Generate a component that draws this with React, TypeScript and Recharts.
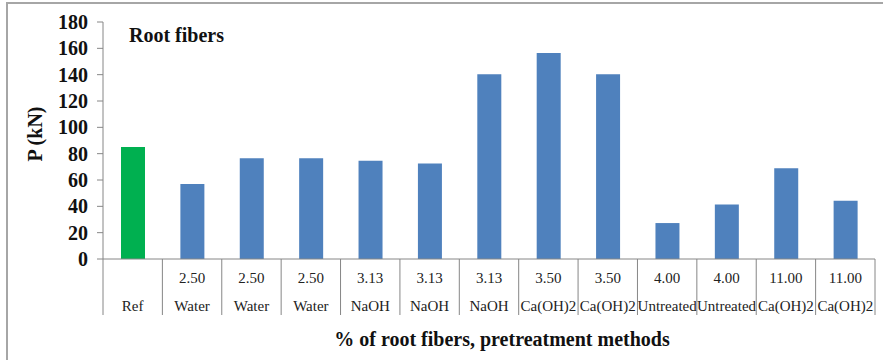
import React from 'react';
import { BarChart, Bar, XAxis, YAxis, Cell } from 'recharts';

const percents = ['', '2.50', '2.50', '2.50', '3.13', '3.13', '3.13', '3.50', '3.50', '4.00', '4.00', '11.00', '11.00'];
const methods = ['Ref', 'Water', 'Water', 'Water', 'NaOH', 'NaOH', 'NaOH', 'Ca(OH)2', 'Ca(OH)2', 'Untreated', 'Untreated', 'Ca(OH)2', 'Ca(OH)2'];
const loads = [85, 57, 76.5, 76.5, 74.6, 72.6, 140.4, 156.5, 140.4, 27.3, 41.4, 69, 44.2];
const yTicks = [0, 20, 40, 60, 80, 100, 120, 140, 160, 180];

const title = 'Root fibers';
const yTitle = 'P (kN)';
const xTitle = '% of root fibers, pretreatment methods';

const REF_COLOR = '#00B050';
const BAR_COLOR = '#4F81BD';
const AXIS_COLOR = '#868686';
const FONT = '"Liberation Serif", "Times New Roman", serif';

const data = methods.map((m, i) => ({ key: `${i}`, pct: percents[i], method: m, value: loads[i] }));

const CatTick = (props: any) => {
  const { x, y, index, width, visibleTicksCount } = props;
  const band = width / visibleTicksCount;
  const d = data[index];
  const isLast = index === visibleTicksCount - 1;
  return (
    <g>
      <line x1={x - band / 2} x2={x - band / 2} y1={y} y2={y + 56} stroke={AXIS_COLOR} strokeWidth={1} />
      {isLast && <line x1={x + band / 2} x2={x + band / 2} y1={y} y2={y + 56} stroke={AXIS_COLOR} strokeWidth={1} />}
      {d && d.pct && (
        <text x={x} y={y + 24} textAnchor="middle" fontSize={15} fontFamily={FONT} fill="#222">
          {d.pct}
        </text>
      )}
      {d && (
        <text x={x} y={y + 52} textAnchor="middle" fontSize={15} fontFamily={FONT} fill="#222">
          {d.method}
        </text>
      )}
    </g>
  );
};

const XTitle = () => (
  <text x={502} y={346} textAnchor="middle" fontSize={20} fontWeight="bold" fontFamily={FONT} fill="#111">
    {xTitle}
  </text>
);

const YTitle = () => (
  <g>
    <text
      x={35}
      y={134}
      transform="rotate(-90 35 134)"
      textAnchor="middle"
      dominantBaseline="central"
      fontSize={20}
      fontWeight="bold"
      fontFamily={FONT}
      fill="#111"
    >
      {yTitle}
    </text>
    <text x={129} y={42} fontSize={20} fontWeight="bold" fontFamily={FONT} fill="#111">
      {title}
    </text>
  </g>
);

export default function App() {
  return (
    <div style={{ position: 'absolute', left: 0, top: 0, width: 883, height: 360, overflow: 'hidden', background: '#fff' }}>
      <div
        style={{
          position: 'absolute',
          left: 6,
          top: 2,
          width: 1000,
          height: 1000,
          borderTop: '2px solid #A6A6A6',
          borderLeft: '2px solid #A6A6A6',
        }}
      />
      <div style={{ position: 'absolute', left: 0, top: 0 }}>
        <BarChart width={883} height={360} data={data} margin={{ top: 22, right: 8, bottom: 1, left: 0 }} barSize={24}>
          <XAxis
            dataKey="key"
            height={100}
            interval={0}
            tickLine={false}
            tickSize={0}
            tickMargin={0}
            axisLine={{ stroke: AXIS_COLOR }}
            tick={<CatTick />}
            label={{ content: () => <XTitle /> }}
          />
          <YAxis
            width={103}
            domain={[0, 180]}
            ticks={yTicks}
            interval={0}
            tickSize={6}
            tickMargin={9}
            axisLine={{ stroke: AXIS_COLOR }}
            tickLine={{ stroke: AXIS_COLOR }}
            tick={{ fontSize: 20, fontWeight: 'bold', fontFamily: FONT, fill: '#111' }}
            label={{ content: () => <YTitle /> }}
          />
          <Bar dataKey="value" isAnimationActive={false}>
            {data.map((d, i) => (
              <Cell key={d.key} fill={i === 0 ? REF_COLOR : BAR_COLOR} />
            ))}
          </Bar>
        </BarChart>
      </div>
    </div>
  );
}
